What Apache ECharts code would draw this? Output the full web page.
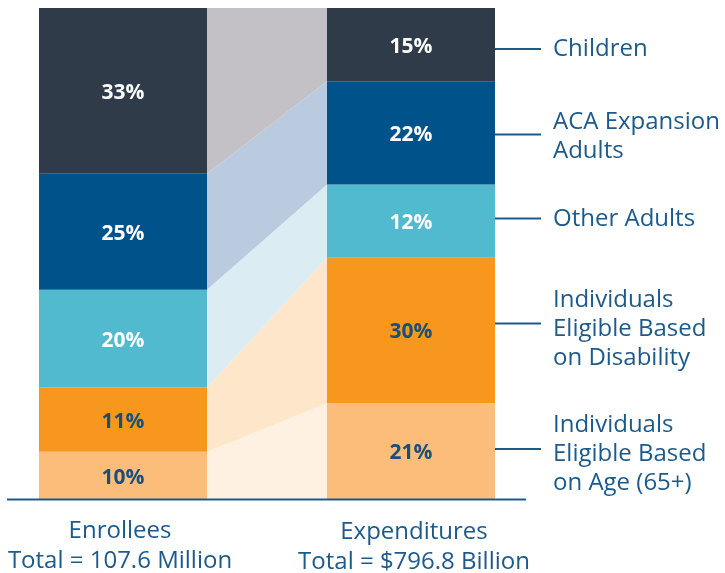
<!DOCTYPE html>
<html>
<head>
<meta charset="utf-8">
<script src="https://cdn.jsdelivr.net/npm/echarts@6/dist/echarts.min.js"></script>
<style>
  html, body { margin: 0; padding: 0; background: #ffffff; }
  #chart { width: 725px; height: 573px; }
</style>
</head>
<body>
<div id="chart"></div>
<script>
// groups, bottom to top
const groups = ['Individuals Eligible Based on Age (65+)', 'Individuals Eligible Based on Disability', 'Other Adults', 'ACA Expansion Adults', 'Children'];
const bars = ['Enrollees', 'Expenditures'];
// share of each bar as drawn (percent of bar height)
const enrolleeShare = [9.7, 13.1, 19.9, 23.6, 33.7];
const spendingShare = [19.6, 29.6, 14.9, 21.0, 14.9];
// printed labels
const enrolleeLabels = ['10%', '11%', '20%', '25%', '33%'];
const spendingLabels = ['21%', '30%', '12%', '22%', '15%'];
const legendLines = ['Individuals\nEligible Based\non Age (65+)', 'Individuals\nEligible Based\non Disability', 'Other Adults', 'ACA Expansion\nAdults', 'Children'];

const barColors = ['#fbbd79', '#f7971e', '#51bacf', '#00538a', '#2f3b48'];
const bandColors = ['#fef1e2', '#fee6ca', '#dbedf3', '#bacbe0', '#c3c1c6'];
const labelColors = ['#1a4f7d', '#1a4f7d', '#ffffff', '#ffffff', '#ffffff'];
const textColor = '#1c5a8c';
const font = '"Open Sans", sans-serif';

const chart = echarts.init(document.getElementById('chart'));

const series = [];
// connecting bands (grid 1 spans the gap between the bars)
groups.forEach(function (name, i) {
  series.push({
    name: name,
    type: 'line',
    xAxisIndex: 1,
    yAxisIndex: 1,
    stack: 'bands',
    data: [enrolleeShare[i], spendingShare[i]],
    symbol: 'none',
    lineStyle: { width: 0 },
    areaStyle: { color: bandColors[i], opacity: 1 },
    silent: true,
    z: 1
  });
});
// stacked bars (grid 0 has the bar centres on its edges)
groups.forEach(function (name, i) {
  series.push({
    name: name,
    type: 'bar',
    xAxisIndex: 0,
    yAxisIndex: 0,
    stack: 'bars',
    barWidth: 168,
    clip: false,
    data: [enrolleeShare[i], spendingShare[i]],
    itemStyle: { color: barColors[i] },
    label: {
      show: true,
      position: 'inside',
      offset: [0, 2],
      color: labelColors[i],
      fontFamily: font,
      fontWeight: 'bold',
      fontSize: 21,
      formatter: function (p) {
        return p.dataIndex === 0 ? enrolleeLabels[i] : spendingLabels[i];
      }
    },
    silent: true,
    z: 2
  });
});

// legend annotations on the right
const legendY = [454, 329, 219, 136.5, 49];
const connectorY = [449, 323.5, 218.5, 134.5, 49];
const graphics = [];
graphics.push({
  type: 'line', z: 100,
  shape: { x1: 7, y1: 499.5, x2: 526, y2: 499.5 },
  style: { stroke: textColor, lineWidth: 2 }
});
groups.forEach(function (name, i) {
  graphics.push({
    type: 'line', z: 100,
    shape: { x1: 495, y1: connectorY[i], x2: 541, y2: connectorY[i] },
    style: { stroke: textColor, lineWidth: 2 }
  });
  graphics.push({
    type: 'text', z: 100,
    x: 553,
    y: legendY[i],
    style: {
      text: legendLines[i],
      font: '24px ' + font,
      fill: textColor,
      lineHeight: 29,
      textAlign: 'left',
      textVerticalAlign: 'middle'
    }
  });
});
graphics.push({
  type: 'text', x: 120, y: 546.5, z: 100,
  style: { text: bars[0] + '\nTotal = 107.6 Million', font: '24px ' + font, fill: textColor, lineHeight: 30, textAlign: 'center', textVerticalAlign: 'middle' }
});
graphics.push({
  type: 'text', x: 414, y: 547.5, z: 100,
  style: { text: bars[1] + '\nTotal = $796.8 Billion', font: '24px ' + font, fill: textColor, lineHeight: 30, textAlign: 'center', textVerticalAlign: 'middle' }
});

const hiddenCat = {
  type: 'category',
  boundaryGap: false,
  axisLine: { show: false },
  axisTick: { show: false },
  axisLabel: { show: false },
  splitLine: { show: false }
};

chart.setOption({
  animation: false,
  backgroundColor: '#ffffff',
  grid: [
    { left: 123, right: 314, top: 8, bottom: 73.5 },
    { left: 207, right: 398, top: 8, bottom: 73.5 }
  ],
  xAxis: [
    Object.assign({ gridIndex: 0, data: bars }, hiddenCat),
    Object.assign({ gridIndex: 1, data: bars }, hiddenCat)
  ],
  yAxis: [
    { gridIndex: 0, type: 'value', min: 0, max: 100, show: false },
    { gridIndex: 1, type: 'value', min: 0, max: 100, show: false }
  ],
  series: series,
  graphic: graphics
});
</script>
</body>
</html>
